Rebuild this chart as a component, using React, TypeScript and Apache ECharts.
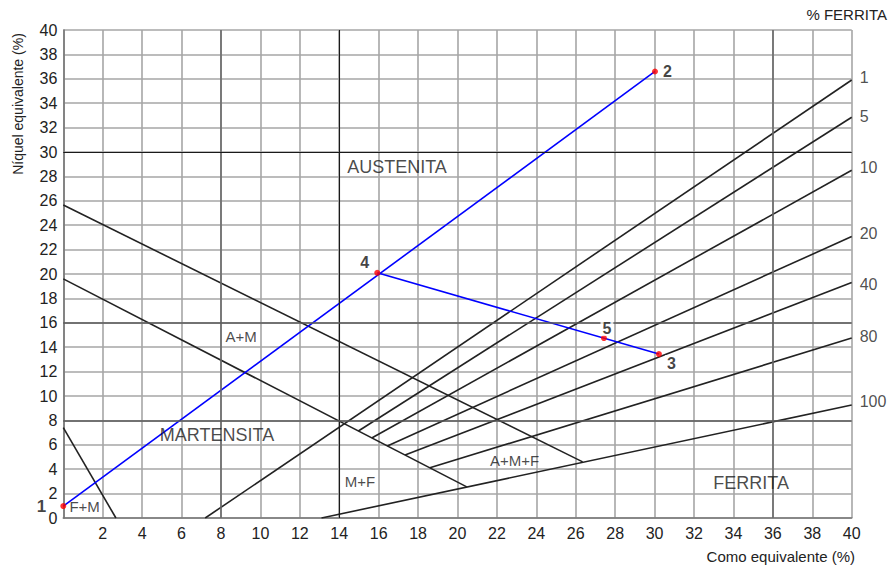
import React, { useEffect, useRef } from "react";
import * as echarts from "echarts";

// Boundary lines of the diagram (Cr equiv., Ni equiv.)
const martensiteLeft = [[0, 7.4], [2.67, 0]];
const austeniteMartensite = [[0, 25.65], [26.35, 4.6]];
const martensiteFerrite = [[0, 19.6], [20.47, 2.55]];
const ferrite1 = [[7.2, 0], [40, 35.9]];
const ferrite5 = [[14.97, 7.13], [40, 32.85]];
const ferrite10 = [[15.65, 6.56], [40, 28.5]];
const ferrite20 = [[16.44, 5.91], [40, 23.07]];
const ferrite40 = [[17.34, 5.16], [40, 19.3]];
const ferrite80 = [[18.6, 4.11], [40, 14.75]];
const ferrite100 = [[13.1, 0], [40, 9.26]];

// Ferrite percentage labels on the right
const ferriteLabels = ["1", "5", "10", "20", "40", "80", "100"];
const ferriteLabelY = [36.07, 32.87, 28.7, 23.36, 19.1, 14.84, 9.59];

// Points
const pointNames = ["1", "2", "3", "4", "5"];
const pointX = [0, 30.02, 30.22, 15.93, 27.43];
const pointY = [0.98, 36.6, 13.44, 20.1, 14.75];

// Blue tie lines
const tieLine12 = [[0, 0.98], [30.02, 36.6]];
const tieLine43 = [[15.93, 20.1], [30.22, 13.44]];

// Region labels
const regionNames = ["AUSTENITA", "A+M", "MARTENSITA", "F+M", "M+F", "A+M+F", "FERRITA"];
const regionX = [16.93, 9.02, 7.8, 1.08, 15.05, 22.9, 34.9];
const regionY = [28.77, 14.9, 6.8, 0.98, 3.03, 4.75, 2.87];
const regionSize = [18, 15, 18, 15, 15, 15, 18];

// Darker grid lines of the original chart paper
const blackX = [14];
const darkX = [8, 36];
const blackY = [30];
const darkY = [8, 16];

const FONT = "'Liberation Sans', Arial, Helvetica, sans-serif";

export default function App() {
  const ref = useRef<HTMLDivElement>(null);
  useEffect(() => {
    if (!ref.current) return;
    const chart = echarts.init(ref.current, undefined, { renderer: "svg" });

    const blackLine = (data: number[][]) => ({
      type: "line",
      data,
      symbol: "none",
      silent: true,
      lineStyle: { color: "#222", width: 1.6 },
      z: 3,
    });

    const labelCfg: any[] = [
      { position: "left", distance: 14, fontSize: 17, fontWeight: "bold" },
      { position: "right", distance: 5, fontSize: 16, fontWeight: "bold" },
      { position: "right", distance: 3, offset: [0, 9], fontSize: 16, fontWeight: "bold", backgroundColor: "#fff", padding: [0, 2] },
      { position: "left", distance: 3, offset: [0, -10], fontSize: 16, fontWeight: "bold", backgroundColor: "#fff", padding: [0, 2] },
      { position: "top", distance: 1, offset: [3, 2], fontSize: 16, fontWeight: "bold", backgroundColor: "#fff", padding: [0, 2] },
    ];

    const gridMarks = [
      ...blackX.map((v) => ({ xAxis: v, lineStyle: { color: "#1a1a1a", width: 1.1, type: "solid" } })),
      ...darkX.map((v) => ({ xAxis: v, lineStyle: { color: "#6a6a6a", width: 1.6, type: "solid" } })),
      ...blackY.map((v) => ({ yAxis: v, lineStyle: { color: "#1a1a1a", width: 1.1, type: "solid" } })),
      ...darkY.map((v) => ({ yAxis: v, lineStyle: { color: "#5a5a5a", width: 1.6, type: "solid" } })),
    ];

    chart.setOption({
      animation: false,
      backgroundColor: "#ffffff",
      textStyle: { fontFamily: FONT },
      grid: { left: 63.3, right: 37.3, top: 30, bottom: 49, show: false },
      xAxis: {
        type: "value",
        min: 0,
        max: 40,
        interval: 2,
        axisLine: { show: true, lineStyle: { color: "#777", width: 1.6 } },
        axisTick: { show: false },
        axisLabel: {
          color: "#222",
          fontSize: 16,
          fontFamily: FONT,
          margin: 7,
          formatter: (v: number) => (v === 0 ? "" : String(v)),
        },
        splitLine: { show: true, lineStyle: { color: "#a6a6a6", width: 1.6 } },
      },
      yAxis: {
        type: "value",
        min: 0,
        max: 40,
        interval: 2,
        axisLine: { show: true, lineStyle: { color: "#777", width: 1.6 } },
        axisTick: { show: false },
        axisLabel: { color: "#222", fontSize: 16, fontFamily: FONT, margin: 6 },
        splitLine: { show: true, lineStyle: { color: "#a6a6a6", width: 1.6 } },
      },
      graphic: [
        {
          type: "text",
          right: 2,
          top: 7,
          style: { text: "% FERRITA", fontSize: 15, fontFamily: FONT, fill: "#222" },
        },
        {
          type: "text",
          x: 855,
          y: 556,
          style: { text: "Como equivalente (%)", fontSize: 15, fontFamily: FONT, fill: "#222", align: "right", verticalAlign: "middle" },
        },
        {
          type: "text",
          x: 18,
          y: 104,
          rotation: Math.PI / 2,
          style: { text: "Níquel equivalente (%)", fontSize: 14, fontFamily: FONT, fill: "#222", align: "center", verticalAlign: "middle" },
        },
      ],
      series: [
        {
          type: "line",
          data: [],
          silent: true,
          z: 2,
          markLine: {
            silent: true,
            symbol: "none",
            label: { show: false },
            animation: false,
            lineStyle: { type: "solid" },
            data: gridMarks,
          },
        },
        blackLine(martensiteLeft),
        blackLine(austeniteMartensite),
        blackLine(martensiteFerrite),
        blackLine(ferrite1),
        blackLine(ferrite5),
        blackLine(ferrite10),
        blackLine(ferrite20),
        blackLine(ferrite40),
        blackLine(ferrite80),
        blackLine(ferrite100),
        {
          type: "line",
          data: tieLine12,
          symbol: "none",
          silent: true,
          lineStyle: { color: "#0000ff", width: 1.6 },
          z: 4,
        },
        {
          type: "line",
          data: tieLine43,
          symbol: "none",
          silent: true,
          lineStyle: { color: "#0000ff", width: 1.6 },
          z: 4,
        },
        {
          type: "scatter",
          silent: true,
          symbolSize: 0,
          z: 5,
          data: regionNames.map((n, i) => ({
            name: n,
            value: [regionX[i], regionY[i]],
            label: { fontSize: regionSize[i] },
          })),
          label: {
            show: true,
            position: "inside",
            color: "#1a1a1a",
            fontFamily: FONT,
            formatter: (p: any) => p.name,
          },
        },
        {
          type: "scatter",
          silent: true,
          symbolSize: 0,
          z: 5,
          data: ferriteLabels.map((n, i) => ({ name: n, value: [40, ferriteLabelY[i]] })),
          label: {
            show: true,
            position: "right",
            distance: 8,
            color: "#222",
            fontSize: 16,
            fontFamily: FONT,
            formatter: (p: any) => p.name,
          },
        },
        {
          type: "scatter",
          silent: true,
          symbol: "circle",
          symbolSize: 6,
          z: 6,
          itemStyle: { color: "#ff0000" },
          data: pointNames.map((n, i) => ({
            name: n,
            value: [pointX[i], pointY[i]],
            label: labelCfg[i],
          })),
          label: {
            show: true,
            color: "#111",
            fontFamily: FONT,
            formatter: (p: any) => p.name,
          },
        },
      ],
    });
    return () => chart.dispose();
  }, []);
  return (
    <div
      ref={ref}
      style={{ position: "fixed", left: 0, top: 0, width: 889, height: 567, background: "#fff" }}
    />
  );
}
